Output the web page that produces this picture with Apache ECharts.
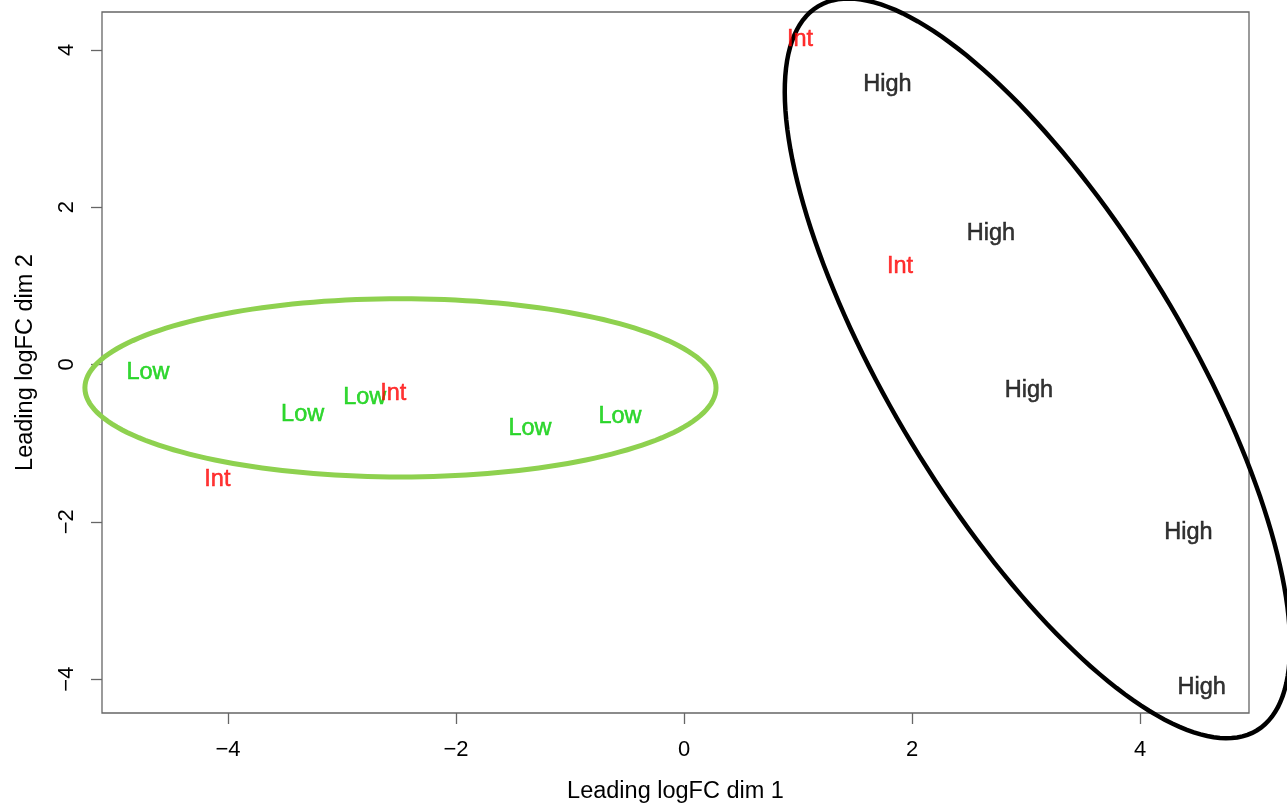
<!DOCTYPE html>
<html><head><meta charset="utf-8">
<script src="https://cdn.jsdelivr.net/npm/echarts@6/dist/echarts.min.js"></script>
<style>html,body{margin:0;padding:0;background:#fff}#c{width:1287px;height:809px}</style>
</head><body><div id="c"></div>
<script>
// Sample positions (MDS plot)
const highX = [1.784, 2.693, 3.026, 4.424, 4.541];
const highY = [3.587, 1.696, -0.304, -2.105, -4.08];
const lowX  = [-4.702, -3.345, -2.80, -1.351, -0.561];
const lowY  = [-0.076, -0.61, -0.39, -0.79, -0.64];
const intX  = [-4.093, -2.55, 1.018, 1.895];
const intY  = [-1.44, -0.34, 4.16, 1.266];
const xTicks = [-4, -2, 0, 2, 4];
const yTicks = [-4, -2, 0, 2, 4];
// Group ellipses: centre and two conjugate semi-diameters (data units)
const lowEllipse  = {cx: -2.487, cy: -0.297, ux: 2.768, uy: 0, vx: 0, vy: 1.133};
const highEllipse = {cx: 3.10, cy: -0.05, ux: 1.924, uy: -4.602, vx: -1.100, vy: -0.958};

function ellipsePts(e) {
  const pts = [];
  for (let d = 0; d < 360; d += 2) {
    const t = d * Math.PI / 180;
    pts.push([e.cx + e.ux * Math.cos(t) + e.vx * Math.sin(t),
              e.cy + e.uy * Math.cos(t) + e.vy * Math.sin(t)]);
  }
  return pts;
}
function pts(xs, ys, name) { return xs.map((x, i) => ({name: name, value: [x, ys[i]]})); }
const FONT = '"Liberation Sans", Arial, Helvetica, sans-serif';
const minus = v => String(v).replace('-', '\u2212');

function labelSeries(xs, ys, name, color) {
  return {
    type: 'scatter', name: name, data: pts(xs, ys, name), symbol: 'circle', symbolSize: 1,
    itemStyle: {color: 'rgba(255,255,255,0)'}, clip: false, z: 5,
    label: {show: true, position: 'inside', formatter: '{b}', color: color, offset: [0, 2],
            textBorderColor: color, textBorderWidth: 0.5, fontSize: 23.5, fontFamily: FONT}
  };
}
function ellipseSeries(e, color, width) {
  const ring = ellipsePts(e);
  return {
    type: 'custom', data: [0], clip: false, z: 3, silent: true,
    renderItem: function (params, api) {
      const p = ring.map(q => api.coord(q));
      return {type: 'polygon', shape: {points: p},
              style: {fill: 'none', stroke: color, lineWidth: width}};
    }
  };
}

const chart = echarts.init(document.getElementById('c'));
chart.setOption({
  animation: false,
  backgroundColor: '#fff',
  grid: {left: 102, top: 12, right: 38, bottom: 93, show: true, borderColor: '#666', borderWidth: 1.3, backgroundColor: 'transparent'},
  xAxis: {
    type: 'value', min: -5.105, max: 4.956,
    name: 'Leading logFC dim 1', nameLocation: 'middle', nameGap: 67,
    nameTextStyle: {fontSize: 23.5, fontFamily: FONT, color: '#000'},
    axisLine: {show: false, onZero: false}, splitLine: {show: false},
    axisTick: {show: true, length: 11, lineStyle: {color: '#666', width: 1.3}, customValues: xTicks},
    axisLabel: {fontSize: 22, fontFamily: FONT, color: '#000', margin: 26, customValues: xTicks, formatter: minus}
  },
  yAxis: {
    type: 'value', min: -4.43, max: 4.48,
    name: 'Leading logFC dim 2', nameLocation: 'middle', nameGap: 64,
    nameTextStyle: {fontSize: 23.5, fontFamily: FONT, color: '#000'},
    axisLine: {show: false, onZero: false}, splitLine: {show: false},
    axisTick: {show: true, length: 11, lineStyle: {color: '#666', width: 1.3}, customValues: yTicks},
    axisLabel: {fontSize: 22, fontFamily: FONT, color: '#000', margin: 24, rotate: 90, customValues: yTicks, formatter: minus}
  },
  series: [
    ellipseSeries(lowEllipse, '#8ED14F', 5),
    ellipseSeries(highEllipse, '#000000', 4.5),
    labelSeries(highX, highY, 'High', '#000000'),
    labelSeries(lowX, lowY, 'Low', '#00CD00'),
    labelSeries(intX, intY, 'Int', '#FF0000')
  ]
});
</script></body></html>
